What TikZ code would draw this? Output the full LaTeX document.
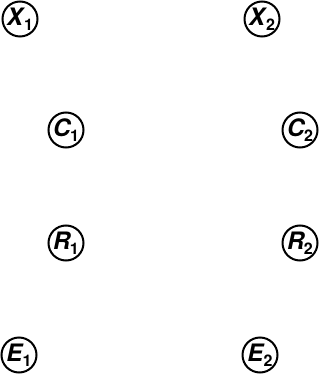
\documentclass[tikz,border=0pt]{standalone}
\usepackage{fontspec}
\setmainfont{TeX Gyre Heros}
\usepackage{tikz}
\usetikzlibrary{positioning}
\newcommand{\varlbl}[2]{\textbf{\textit{#1}\kern-1pt\raisebox{-0.4ex}{\fontsize{16}{16}\selectfont #2}}}
\tikzset{
  var/.style={draw=black, circle, line width=2pt, minimum size=35pt, inner sep=0pt, font=\fontsize{24}{24}\selectfont}
}
\begin{document}
\begin{tikzpicture}[x=1pt, y=-1pt]
  \useasboundingbox (0,0) rectangle (333,379);
  \node [var] (x1) at (20,19) {\varlbl{X}{1}};
  \node [var] (x2) at (262,19) {\varlbl{X}{2}};
  \node [var] (c1) at (66,130) {\varlbl{C}{1}};
  \node [var] (c2) at (300,130) {\varlbl{C}{2}};
  \node [var] (r1) at (66,243) {\varlbl{R}{1}};
  \node [var] (r2) at (300,243) {\varlbl{R}{2}};
  \node [var] (e1) at (19,355) {\varlbl{E}{1}};
  \node [var] (e2) at (260,355) {\varlbl{E}{2}};
\end{tikzpicture}
\end{document}
